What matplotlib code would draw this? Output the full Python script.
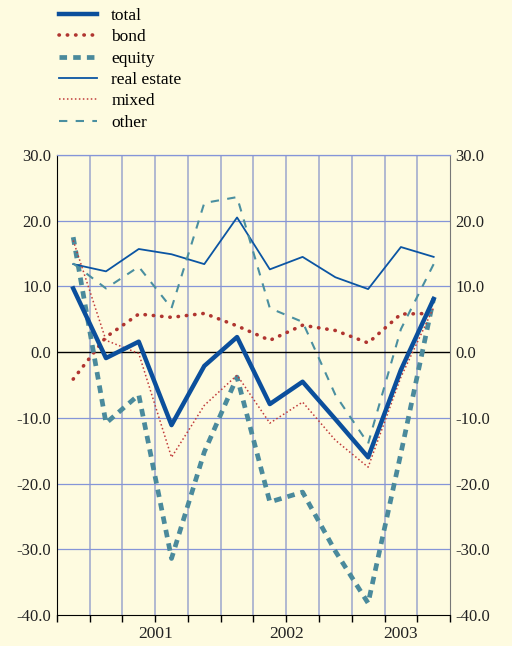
import numpy as np
import matplotlib
matplotlib.use('Agg')
import matplotlib.pyplot as plt

plt.rcParams['font.family'] = ['Liberation Serif', 'DejaVu Serif']

# quarterly returns, 2000 Q4 .. 2003 Q3
quarters = ['2000Q4', '2001Q1', '2001Q2', '2001Q3', '2001Q4', '2002Q1',
            '2002Q2', '2002Q3', '2002Q4', '2003Q1', '2003Q2', '2003Q3']
total = [9.7, -0.9, 1.6, -11.1, -2.1, 2.3, -7.9, -4.5, -10.2, -16.0, -2.7, 8.1]
bond = [-4.1, 2.3, 5.8, 5.3, 5.9, 4.0, 1.8, 4.1, 3.3, 1.4, 5.8, 5.9]
equity = [17.5, -10.8, -6.5, -31.4, -15.2, -3.8, -22.8, -21.3, -30.3, -38.2, -15.4, 8.2]
real_estate = [13.4, 12.3, 15.7, 14.9, 13.4, 20.5, 12.6, 14.5, 11.4, 9.6, 16.0, 14.5]
mixed = [17.0, 1.8, -0.2, -16.0, -8.1, -3.5, -10.8, -7.6, -13.4, -17.5, -3.8, 6.8]
other = [13.5, 9.7, 13.0, 6.7, 22.7, 23.6, 6.7, 4.6, -6.5, -13.9, 3.5, 13.4]

years = ['2001', '2002', '2003']
year_pos = [3, 7, 10.5]

bg = '#fefbe0'
fig = plt.figure(figsize=(5.12, 6.46), dpi=100, facecolor=bg)
ax = fig.add_axes([0.111, 0.048, 0.768, 0.712], facecolor=bg)

x = np.arange(len(quarters)) + 0.5

# grid
for v in range(1, 12):
    ax.axvline(v, color='#aab2d0', lw=1.3, zorder=1)
for h in [-30, -20, -10, 10, 20, 30]:
    ax.axhline(h, color='#8595d8', lw=0.9, zorder=1)
ax.axhline(0, color='black', lw=1.0, zorder=2)

ax.plot(x, total, color='#0b4f9c', lw=3.2, label='total', zorder=5)
ax.plot(x, bond, color='#b03530', lw=2.6, linestyle=(0, (0.1, 2.2)),
        dash_capstyle='round', label='bond', zorder=4)
ax.plot(x, equity, color='#4a8a9c', lw=3.4, linestyle=(0, (1.6, 1.3)),
        label='equity', zorder=4)
ax.plot(x, real_estate, color='#0b55a3', lw=1.3, label='real estate', zorder=4)
ax.plot(x, mixed, color='#c03a3a', lw=1.1, linestyle=(0, (1, 1.6)),
        label='mixed', zorder=4)
ax.plot(x, other, color='#4a8fa0', lw=1.5, linestyle=(0, (4, 4)),
        label='other', zorder=4)

ax.set_xlim(0, 12)
ax.set_ylim(-40, 30)
ax.xaxis.remove_overlapping_locs = False
ax.set_xticks(range(0, 13))
ax.set_xticklabels([])
ax.set_xticks(year_pos, minor=True)
ax.set_xticklabels(years, minor=True)
ax.tick_params(axis='x', which='major', direction='out', length=5, width=1)
ax.tick_params(axis='x', which='minor', length=0, labelsize=12.5, pad=8,
               colors='#222222')

yt = [-40, -30, -20, -10, 0, 10, 20, 30]
ax.set_yticks(yt)
ax.set_yticklabels(['%.1f' % v for v in yt])
ax.tick_params(axis='y', length=0, labelsize=12, labelcolor='#222222',
               labelleft=True, labelright=True, pad=4)

ax.spines['left'].set_color('black')
ax.spines['bottom'].set_color('black')
ax.spines['right'].set_color('#777777')
ax.spines['top'].set_color('#8595d8')
ax.spines['top'].set_linewidth(0.9)

fig.legend(loc='upper left', bbox_to_anchor=(0.085, 1.012), frameon=False,
           fontsize=12.5, handlelength=2.2, labelspacing=0.3,
           handletextpad=0.8)

fig.savefig('out.png', dpi=100, facecolor=bg)
